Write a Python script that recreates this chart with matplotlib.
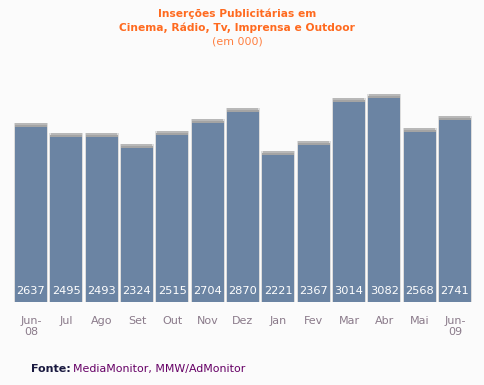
import numpy as np
import matplotlib.pyplot as plt

# monthly ad insertions (thousands)
months = ['Jun-\n08', 'Jul', 'Ago', 'Set', 'Out', 'Nov', 'Dez', 'Jan', 'Fev', 'Mar', 'Abr', 'Mai', 'Jun-\n09']
values = [2637, 2495, 2493, 2324, 2515, 2704, 2870, 2221, 2367, 3014, 3082, 2568, 2741]

W, H = 484, 385
bg = '#fbfbfb'
bar_color = '#6b84a3'

fig = plt.figure(figsize=(W / 100, H / 100), dpi=100, facecolor=bg)

# axes placed in pixel terms: baseline at y=302px, bar pitch ~35.3px
base_px = 302
px_per_unit = 0.0663
pitch = 35.33
first_center = 31
ax = fig.add_axes([0, (H - base_px) / H, 1, base_px / H])
ax.set_facecolor(bg)
ax.set_xlim(-first_center / pitch, (W - first_center) / pitch)
ax.set_ylim(0, base_px / px_per_unit)
for s in ax.spines.values():
    s.set_visible(False)

x = np.arange(len(values))
px = 1 / px_per_unit  # one pixel in data units
bw = 32 / pitch
vals = np.array(values)

# soft shadow behind each bar
ax.bar(x, vals + 4 * px, width=bw + 2 / pitch, color='#dcdcdc', zorder=1)
ax.bar(x, [2 * px] * len(values), bottom=vals + 2 * px, width=bw - 1 / pitch, color='#b8b8b8', zorder=2)
ax.bar(x, [2 * px] * len(values), bottom=vals, width=bw, color='#a4a4a4', zorder=2)
ax.bar(x, values, width=bw, color=bar_color, zorder=3)

for xi, v in zip(x, values):
    ax.annotate(str(v), (xi, 0), xytext=(0, 8), textcoords='offset points',
                ha='center', va='center', color='white', fontsize=8.2, zorder=4)

ax.set_yticks([])
ax.set_xticks(x)
ax.set_xticklabels(months, fontsize=8, color='#8a7a8a', linespacing=1.15)
ax.tick_params(axis='x', length=0, pad=10)

# title block
cx = 237 / W
fig.text(cx, 1 - 14 / H, 'Inserções Publicitárias em', ha='center', va='center',
         fontsize=7.7, fontweight='bold', color='#ff6a1f')
fig.text(cx, 1 - 28 / H, 'Cinema, Rádio, Tv, Imprensa e Outdoor', ha='center', va='center',
         fontsize=7.7, fontweight='bold', color='#ff6a1f')
fig.text(cx, 1 - 42 / H, '(em 000)', ha='center', va='center',
         fontsize=7.9, color='#ff7f40')

# source line
fig.text(31 / W, 1 - 369 / H, 'Fonte:', ha='left', va='center',
         fontsize=8, fontweight='bold', color='#1a1a40')
fig.text(73 / W, 1 - 369 / H, 'MediaMonitor, MMW/AdMonitor', ha='left', va='center',
         fontsize=7.9, color='#660066')

fig.savefig('out.png', dpi=100, facecolor=bg)
